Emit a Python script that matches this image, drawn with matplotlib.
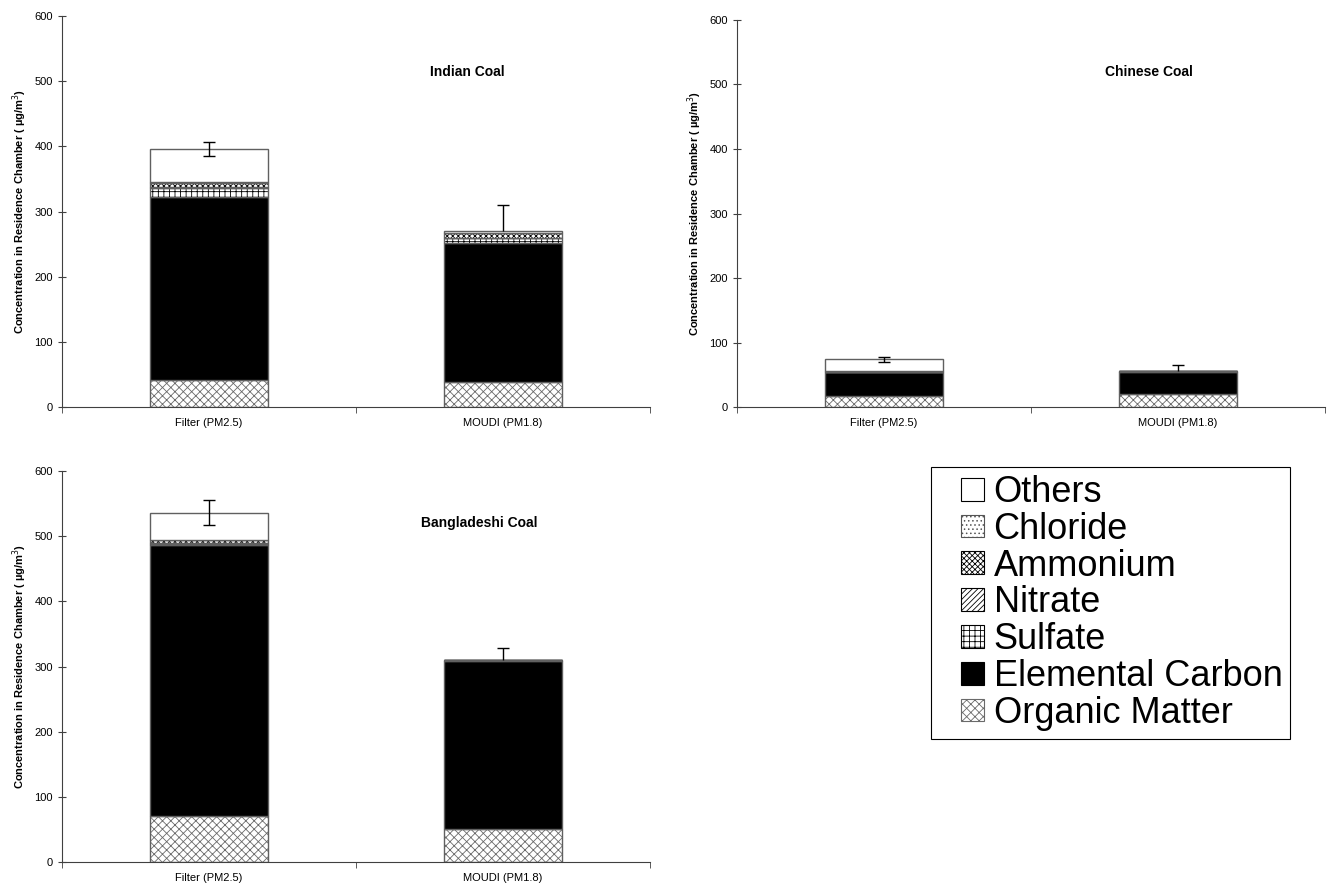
import matplotlib
matplotlib.use("Agg")
import matplotlib.pyplot as plt
from matplotlib.patches import Patch, Rectangle
from matplotlib.legend_handler import HandlerPatch
import numpy as np

plt.rcParams['font.family'] = ['Liberation Sans', 'DejaVu Sans']
plt.rcParams['hatch.linewidth'] = 0.6

categories = ['Filter (PM2.5)', 'MOUDI (PM1.8)']
components = ['Organic Matter', 'Elemental Carbon', 'Sulfate', 'Nitrate',
              'Ammonium', 'Chloride', 'Others']

# Indian coal
indian_om = [42, 39]
indian_ec = [280, 212]
indian_sulfate = [14, 8]
indian_nitrate = [2, 1]
indian_ammonium = [6, 7]
indian_chloride = [1, 0.5]
indian_others = [51, 3]
indian_err_up = [11, 39]
indian_err_low = [11, 0]

# Chinese coal
chinese_om = [17, 20]
chinese_ec = [37, 35]
chinese_sulfate = [0.5, 0.3]
chinese_nitrate = [0.2, 0.1]
chinese_ammonium = [0.3, 0.2]
chinese_chloride = [0.1, 0.1]
chinese_others = [19, 0]
chinese_err_up = [4, 9]
chinese_err_low = [4, 0]

# Bangladeshi coal
bangla_om = [70, 50]
bangla_ec = [417, 259]
bangla_sulfate = [1, 0.5]
bangla_nitrate = [1.5, 0.3]
bangla_ammonium = [4, 0.2]
bangla_chloride = [0.5, 0]
bangla_others = [42, 0]
bangla_err_up = [19, 18]
bangla_err_low = [19, 0]

yticks = [0, 100, 200, 300, 400, 500, 600]

styles = {
    'Organic Matter': dict(facecolor='white', hatchcolor='#6a6a6a', hatch='xxxx'),
    'Elemental Carbon': dict(facecolor='black', hatchcolor='black', hatch=None),
    'Sulfate': dict(facecolor='white', hatchcolor='black', hatch='+++'),
    'Nitrate': dict(facecolor='white', hatchcolor='black', hatch='//////'),
    'Ammonium': dict(facecolor='white', hatchcolor='black', hatch='xxxxxx'),
    'Chloride': dict(facecolor='white', hatchcolor='#555555', hatch='....'),
    'Others': dict(facecolor='white', hatchcolor='black', hatch=None),
}

fig = plt.figure(figsize=(13.32, 8.92), dpi=100)

def panel(rect, title, title_pos, series, err_low, err_up):
    ax = fig.add_axes(rect)
    x = np.arange(len(categories))
    bottom = np.zeros(len(categories))
    for name, vals in zip(components, series):
        vals = np.array(vals, dtype=float)
        st = styles[name]
        ax.bar(x, vals, 0.4, bottom=bottom, color=st['facecolor'],
               edgecolor=st['hatchcolor'], hatch=st['hatch'], linewidth=0)
        ax.bar(x, vals, 0.4, bottom=bottom, fill=False,
               edgecolor='#606060', linewidth=1.0)
        bottom = bottom + vals
    eb = ax.errorbar(x, bottom, yerr=[err_low, err_up], fmt='none', ecolor='black',
                     elinewidth=1.0, capsize=4, capthick=1.0)
    caplines = eb[1]
    if caplines:
        caplines[0].set_markevery([i for i, e in enumerate(err_low) if e > 0])
    ax.set_xlim(-0.5, 1.5)
    ax.set_ylim(0, 600)
    ax.set_yticks(yticks)
    ax.set_yticklabels([str(v) for v in yticks], fontsize=8)
    ax.set_xticks(x)
    ax.set_xticklabels(categories, fontsize=8)
    ax.tick_params(axis='x', length=0, pad=8)
    ax.set_xticks([-0.5, 0.5, 1.5], minor=True)
    ax.tick_params(axis='x', which='minor', length=4, direction='out', color='#404040')
    ax.tick_params(axis='y', length=6, direction='inout', color='#404040')
    for s in ['top', 'right']:
        ax.spines[s].set_visible(False)
    for s in ['left', 'bottom']:
        ax.spines[s].set_color('#404040')
    ax.set_ylabel('Concentration in Residence Chamber ( µg/m$^{3}$)',
                  fontsize=8, fontweight='bold', labelpad=4)
    ax.text(title_pos[0], title_pos[1], title, transform=ax.transAxes,
            fontsize=10, fontweight='bold', ha='center', va='center')
    return ax

panel([0.0465, 0.5437, 0.4414, 0.4383], 'Indian Coal', (0.69, 0.857),
      [indian_om, indian_ec, indian_sulfate, indian_nitrate, indian_ammonium,
       indian_chloride, indian_others], indian_err_low, indian_err_up)
panel([0.5533, 0.5437, 0.4414, 0.4339], 'Chinese Coal', (0.70, 0.866),
      [chinese_om, chinese_ec, chinese_sulfate, chinese_nitrate, chinese_ammonium,
       chinese_chloride, chinese_others], chinese_err_low, chinese_err_up)
panel([0.0465, 0.0336, 0.4414, 0.4383], 'Bangladeshi Coal', (0.71, 0.867),
      [bangla_om, bangla_ec, bangla_sulfate, bangla_nitrate, bangla_ammonium,
       bangla_chloride, bangla_others], bangla_err_low, bangla_err_up)


def square_patch(legend, orig_handle, xdescent, ydescent, width, height, fontsize):
    return Rectangle(xy=(-xdescent + width - height, -ydescent), width=height, height=height)


handles = []
for name in components[::-1]:
    st = styles[name]
    handles.append(Patch(facecolor=st['facecolor'], edgecolor=st['hatchcolor'],
                         hatch=st['hatch'], linewidth=0.8, label=name))
leg = fig.legend(handles=handles, loc='upper left', bbox_to_anchor=(0.699, 0.4765),
                 fontsize=26, frameon=True, fancybox=False, framealpha=1,
                 edgecolor='black', handlelength=1.25, handleheight=0.6,
                 handletextpad=0.26, labelspacing=0.05, borderpad=0.22,
                 borderaxespad=0,
                 handler_map={Patch: HandlerPatch(patch_func=square_patch)})
leg.get_frame().set_linewidth(0.8)

fig.savefig('out.png', dpi=100)
